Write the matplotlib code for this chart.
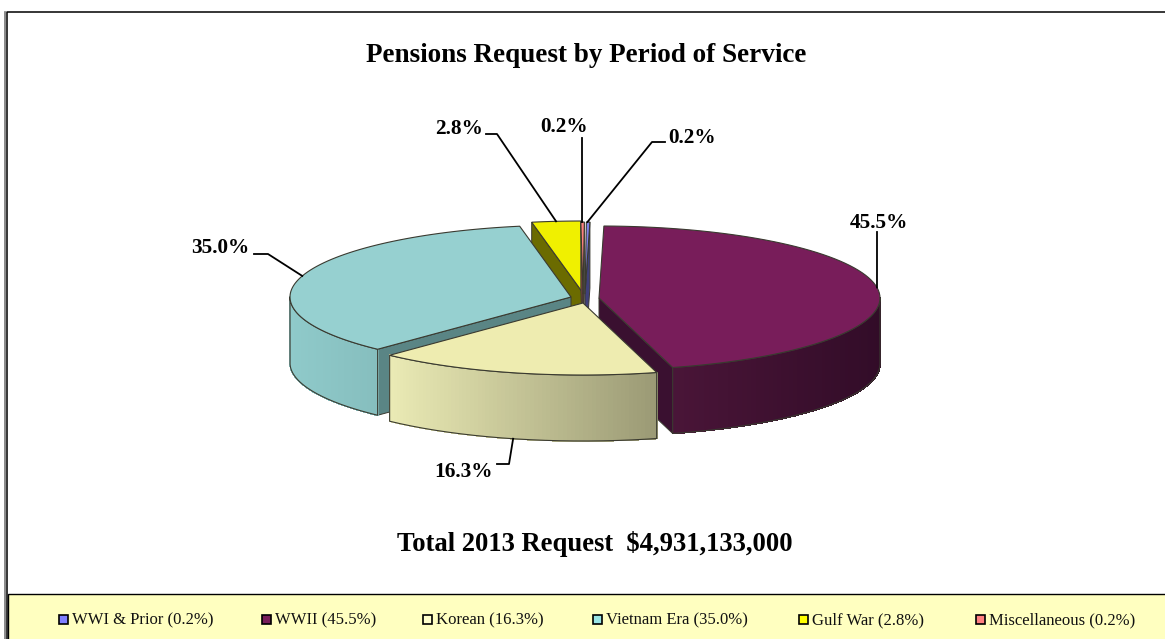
import numpy as np
import matplotlib
matplotlib.use('Agg')
import matplotlib.pyplot as plt
from matplotlib.collections import PolyCollection
from matplotlib.colors import to_rgb
from matplotlib.patches import Polygon, Rectangle

periods = ['WWI & Prior', 'WWII', 'Korean', 'Vietnam Era', 'Gulf War', 'Miscellaneous']
shares = [0.2, 45.5, 16.3, 35.0, 2.8, 0.2]
top_colors = ['#7F7FE8', '#781D5A', '#EEECB0', '#96D0D0', '#F0F000', '#FF8080']
cut_colors = ['#40407A', '#3A1030', '#9B9A75', '#5A8585', '#6B6B00', '#804040']
swatch_colors = ['#7F7FFF', '#781D5A', '#FFFFCC', '#99E5E5', '#FFFF00', '#FF8080']
# pie centre of each slice, in pixels (the slices are pulled apart)
centers = [(585, 294), (599, 298), (583, 303), (571, 297), (583, 293), (583, 294)]
wall_left = ['#40407A', '#4A1538', '#EBEBB5', '#8FCACA', '#6B6B00', '#804040']
wall_right = ['#40407A', '#320C28', '#9B9A75', '#86BEBE', '#6B6B00', '#804040']

RX, RY, DEPTH = 281, 72, 66
ROTATE = 1
EDGE = '#3A3A30'

# clockwise from 12 o'clock, WWII starts near the top
ends = np.cumsum(shares) * 3.6 - shares[0] * 3.6 + ROTATE
starts = ends - np.array(shares) * 3.6


def rim(c, deg):
    t = np.radians(deg)
    return np.array([c[0] + RX * np.sin(t), c[1] - RY * np.cos(t)])


def arc(c, a, b, n=80):
    return np.array([rim(c, d) for d in np.linspace(a, b, n)])


def draw_slice(ax, i):
    c, a, b = centers[i], starts[i], ends[i]
    down = np.array([0, DEPTH])
    apex = np.array(c, dtype=float)
    # cut faces, only the one turned to the viewer
    faces = []
    if np.sin(np.radians(a)) < 0:
        faces.append(a)
    if np.sin(np.radians(b)) > 0:
        faces.append(b)
    for d in faces:
        p = rim(c, d)
        ax.add_patch(Polygon([apex, p, p + down, apex + down], fc=cut_colors[i],
                             ec=EDGE, lw=0.7, zorder=i_z[i]))
    # outer wall, only the part facing us
    lo, hi = max(a, 90), min(b, 270)
    if hi > lo:
        ds = np.linspace(lo, hi, 70)
        polys, cols = [], []
        c0, c1 = np.array(to_rgb(wall_right[i])), np.array(to_rgb(wall_left[i]))
        for d0, d1 in zip(ds[:-1], ds[1:]):
            p0, p1 = rim(c, d0), rim(c, d1)
            polys.append([p0, p1, p1 + down, p0 + down])
            f = (p0[0] - rim(c, hi)[0]) / max(rim(c, lo)[0] - rim(c, hi)[0], 1)
            cols.append(c1 + (c0 - c1) * f)
        ax.add_collection(PolyCollection(polys, facecolors=cols, edgecolors=cols,
                                         linewidths=0.6, antialiaseds=False, zorder=i_z[i]))
        edge = arc(c, lo, hi)
        outline = np.vstack([edge, (edge + down)[::-1], edge[:1]])
        ax.plot(outline[:, 0], outline[:, 1], color=EDGE, lw=0.8, zorder=i_z[i])
    # top face
    top = np.vstack([apex, arc(c, a, b)])
    ax.add_patch(Polygon(top, fc=top_colors[i], ec=EDGE, lw=0.8, zorder=i_z[i] + 0.5))


fig = plt.figure(figsize=(11.65, 6.39), dpi=100)
ax = fig.add_axes([0, 0, 1, 1])
ax.set_xlim(0, 1165)
ax.set_ylim(639, 0)
ax.axis('off')
serif = 'Liberation Serif'

# frame and legend band
ax.plot([5, 5], [639, 11.5], color='#777777', lw=1.2, zorder=1)
ax.plot([6.5, 6.5, 1165], [639, 11.5, 11.5], color='black', lw=1.1, zorder=1)
ax.add_patch(Rectangle((7.5, 594), 1170, 60, fc='#FFFFC0', ec='black', lw=1, zorder=1))

# back slices first
i_z = {4: 2, 5: 3, 0: 3, 3: 4, 1: 5, 2: 6}
for i in [4, 5, 0, 3, 1, 2]:
    draw_slice(ax, i)

# leader lines: from a point on the rim to the label elbow
leaders = [
    (0, 0.5, [(652, 142), (665, 142)]),
    (1, 81.6, [(877, 232)]),
    (2, 194.4, [(509, 464), (497, 464)]),
    (3, 287, [(268, 254), (254, 254)]),
    (4, 354.5, [(497, 134), (486, 134)]),
    (5, 359.8, [(582, 138)]),
]
for i, deg, rest in leaders:
    p = rim(centers[i], deg)
    if i == 2:
        p = p + [0, DEPTH]
    pts = [p] + rest
    ax.plot([q[0] for q in pts], [q[1] for q in pts], color='black', lw=1.3, zorder=8)

label_pos = [(692, 138), (879, 223), (463, 472), (220, 248), (459, 129), (564, 127)]
for share, (x, y) in zip(shares, label_pos):
    ax.text(x, y, f'{share:.1f}%', ha='center', va='center', family=serif,
            fontweight='bold', fontsize=15.3, color='black', zorder=9)

ax.text(586, 55, 'Pensions Request by Period of Service', ha='center', va='center',
        family=serif, fontweight='bold', fontsize=19.5, color='black')
ax.text(595, 544, 'Total 2013 Request  $4,931,133,000', ha='center', va='center',
        family=serif, fontweight='bold', fontsize=19.2, color='black')

# legend
swatch_x = [59, 262, 423, 593, 799, 976]
for name, share, col, x in zip(periods, shares, swatch_colors, swatch_x):
    ax.add_patch(Rectangle((x, 614.5), 9, 9, fc=col, ec='black', lw=1.2, zorder=3))
    ax.text(x + 13, 620, f'{name} ({share:.1f}%)', ha='left', va='center', family=serif,
            fontsize=12, color='#111111', zorder=3)

fig.savefig('out.png', dpi=100)
